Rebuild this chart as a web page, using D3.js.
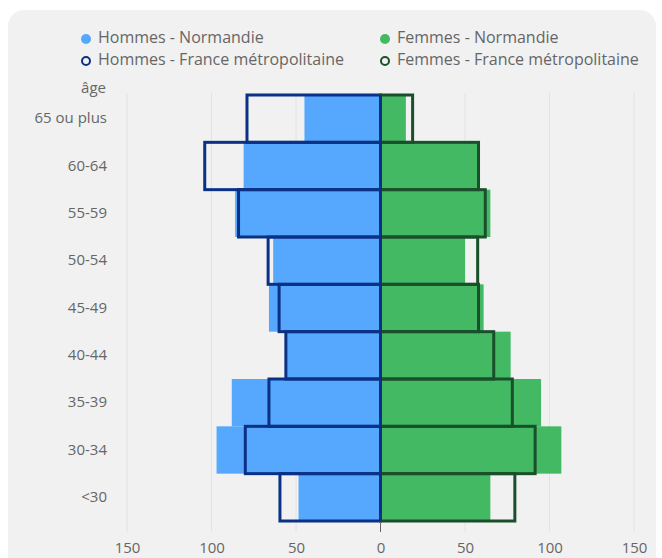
<!DOCTYPE html>
<html>
<head>
<meta charset="utf-8">
<script src="https://cdn.jsdelivr.net/npm/d3@7/dist/d3.min.js"></script>
<style>
  html, body { margin: 0; padding: 0; background: #ffffff; }
  svg { display: block; font-family: "Open Sans", "Noto Sans", sans-serif; }
</style>
</head>
<body>
<svg id="chart" width="662" height="558"></svg>
<script>
// Age groups, top to bottom
const ageGroups = ["65 ou plus", "60-64", "55-59", "50-54", "45-49", "40-44", "35-39", "30-34", "<30"];

// Indices per age group
const hommesNormandie = [45, 81, 86, 63.5, 66, 56, 88, 97, 48.5];
const femmesNormandie = [15, 58, 65, 50, 61, 77, 95, 107, 65];
const hommesFrance = [79, 104, 84, 66.5, 60, 56, 66, 80, 59.5];
const femmesFrance = [19, 58, 62, 57.5, 58, 67, 78, 91.5, 79.5];

const xTicks = [-150, -100, -50, 0, 50, 100, 150];

const legendItems = [
  { label: "Hommes - Normandie", color: "#55a8fd", filled: true, col: 0, row: 0 },
  { label: "Femmes - Normandie", color: "#43b964", filled: true, col: 1, row: 0 },
  { label: "Hommes - France métropolitaine", color: "#0a3185", filled: false, col: 0, row: 1 },
  { label: "Femmes - France métropolitaine", color: "#1a4f2b", filled: false, col: 1, row: 1 }
];

const textColor = "#666";
const svg = d3.select("#chart");

// Card background
svg.append("rect")
  .attr("x", 8).attr("y", 10)
  .attr("width", 648).attr("height", 580)
  .attr("rx", 16)
  .attr("fill", "#f1f1f1");

const x = d3.scaleLinear().domain([-150, 150]).range([127, 634]);
const y = d3.scaleBand().domain(ageGroups).range([95, 521]).padding(0);

// Vertical grid lines
svg.append("g").selectAll("line")
  .data(xTicks.filter(d => d !== 0))
  .join("line")
  .attr("x1", d => x(d)).attr("x2", d => x(d))
  .attr("y1", 93).attr("y2", 532)
  .attr("stroke", "#e2e2e2").attr("stroke-width", 1);

// Filled regional bars
svg.append("g").selectAll("rect")
  .data(ageGroups)
  .join("rect")
  .attr("x", (d, i) => x(-hommesNormandie[i]))
  .attr("y", d => y(d))
  .attr("width", (d, i) => x(0) - x(-hommesNormandie[i]))
  .attr("height", y.bandwidth())
  .attr("fill", legendItems[0].color);

svg.append("g").selectAll("rect")
  .data(ageGroups)
  .join("rect")
  .attr("x", x(0))
  .attr("y", d => y(d))
  .attr("width", (d, i) => x(femmesNormandie[i]) - x(0))
  .attr("height", y.bandwidth())
  .attr("fill", legendItems[1].color);

// National outlines
svg.append("g").selectAll("rect")
  .data(ageGroups)
  .join("rect")
  .attr("x", (d, i) => x(-hommesFrance[i]))
  .attr("y", d => y(d))
  .attr("width", (d, i) => x(0) - x(-hommesFrance[i]))
  .attr("height", y.bandwidth())
  .attr("fill", "none")
  .attr("stroke", legendItems[2].color)
  .attr("stroke-width", 3);

svg.append("g").selectAll("rect")
  .data(ageGroups)
  .join("rect")
  .attr("x", x(0))
  .attr("y", d => y(d))
  .attr("width", (d, i) => x(femmesFrance[i]) - x(0))
  .attr("height", y.bandwidth())
  .attr("fill", "none")
  .attr("stroke", legendItems[3].color)
  .attr("stroke-width", 3);

// Zero line
svg.append("line")
  .attr("x1", x(0)).attr("x2", x(0))
  .attr("y1", 95).attr("y2", 521)
  .attr("stroke", "#0a3185").attr("stroke-width", 3);

// X axis
const xAxis = d3.axisBottom(x)
  .tickValues(xTicks)
  .tickFormat(d => Math.abs(d))
  .tickSize(0)
  .tickPadding(11);
const gx = svg.append("g").attr("transform", "translate(0,531)").call(xAxis);
gx.select(".domain").remove();
gx.selectAll("text")
  .attr("font-size", 15)
  .attr("fill", textColor)
  .attr("font-family", "Open Sans, Noto Sans, sans-serif");
gx.append("line")
  .attr("x1", x(0)).attr("x2", x(0))
  .attr("y1", -9).attr("y2", 1)
  .attr("stroke", "#666").attr("stroke-width", 1);

// Y axis labels
const yAxis = d3.axisLeft(y).tickSize(0).tickPadding(0);
const gy = svg.append("g").attr("transform", "translate(107,0)").call(yAxis);
gy.select(".domain").remove();
gy.selectAll("text")
  .attr("font-size", 15)
  .attr("fill", textColor)
  .attr("font-family", "Open Sans, Noto Sans, sans-serif");

svg.append("text")
  .attr("x", 106).attr("y", 89)
  .attr("text-anchor", "end")
  .attr("dominant-baseline", "middle")
  .attr("font-size", 15)
  .attr("fill", textColor)
  .text("âge");

// Legend
const legend = svg.append("g");
const leg = legend.selectAll("g")
  .data(legendItems)
  .join("g")
  .attr("transform", d => `translate(${d.col === 0 ? 86 : 385},${d.row === 0 ? 39 : 61})`);
leg.append("circle")
  .attr("r", d => d.filled ? 5 : 4)
  .attr("fill", d => d.filled ? d.color : "none")
  .attr("stroke", d => d.filled ? "none" : d.color)
  .attr("stroke-width", 2);
leg.append("text")
  .attr("x", 12)
  .attr("dominant-baseline", "middle")
  .attr("font-size", 16)
  .attr("fill", textColor)
  .text(d => d.label);
</script>
</body>
</html>
